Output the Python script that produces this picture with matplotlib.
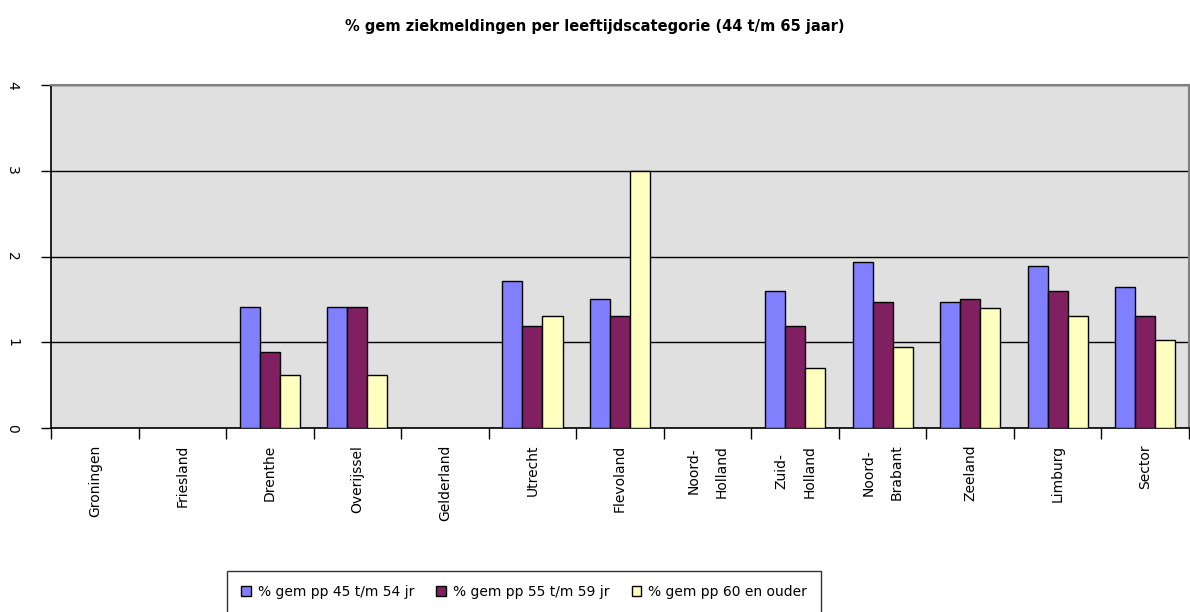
"""Clustered bar chart: % gem ziekmeldingen per leeftijdscategorie per provincie."""

import matplotlib.pyplot as plt
import numpy as np

categories = ["Groningen", "Friesland", "Drenthe", "Overijssel", "Gelderland",
              "Utrecht", "Flevoland", "Noord-\nHolland", "Zuid-\nHolland",
              "Noord-\nBrabant", "Zeeland", "Limburg", "Sector"]
nan = np.nan
pp_45_54 = [nan, nan, 1.41, 1.41, nan, 1.71, 1.50, nan, 1.60, 1.94, 1.47, 1.89, 1.64]
pp_55_59 = [nan, nan, 0.89, 1.41, nan, 1.19, 1.31, nan, 1.19, 1.47, 1.50, 1.60, 1.31]
pp_60_up = [nan, nan, 0.62, 0.62, nan, 1.31, 3.00, nan, 0.70, 0.94, 1.40, 1.31, 1.03]
series_labels = ["% gem pp 45 t/m 54 jr", "% gem pp 55 t/m 59 jr", "% gem pp 60 en ouder"]
colors = ["#8080FF", "#802060", "#FFFFC0"]
yticks = [0, 1, 2, 3, 4]
title = "% gem ziekmeldingen per leeftijdscategorie (44 t/m 65 jaar)"

plt.rcParams["font.family"] = ["DejaVu Sans"]

fig = plt.figure(figsize=(11.9, 6.12), dpi=100)
ax = fig.add_axes([51 / 1190, 1 - 428 / 612, 1138 / 1190, 343 / 612])
ax.set_facecolor("#E0E0E0")

x = np.arange(len(categories))
w = 0.229
for i, (vals, lab, col) in enumerate(zip([pp_45_54, pp_55_59, pp_60_up], series_labels, colors)):
    ax.bar(x + (i - 1) * w, vals, width=w, color=col, edgecolor="black",
           linewidth=1.0, label=lab, zorder=3)

ax.set_xlim(-0.5, len(categories) - 0.5)
ax.set_ylim(0, 4)
ax.set_yticks(yticks)
ax.set_yticklabels([str(t) for t in yticks], rotation=-90, va="center", fontsize=10)
ax.tick_params(axis="y", length=7, width=1, pad=16, direction="out")
ax.yaxis.grid(True, color="black", linewidth=1.0, zorder=1)

# labels at category centers, ticks at category boundaries
ax.set_xticks(x)
ax.set_xticklabels(categories, rotation=90, ha="center", va="top", fontsize=10,
                   linespacing=2.3)
ax.tick_params(axis="x", which="major", length=0, pad=12)
ax.set_xticks(np.arange(-0.5, len(categories)), minor=True)
ax.tick_params(axis="x", which="minor", length=8, width=1, direction="out")

for side in ("left", "bottom"):
    ax.spines[side].set_color("black")
    ax.spines[side].set_linewidth(1.2)
for side in ("top", "right"):
    ax.spines[side].set_color("#808080")
    ax.spines[side].set_linewidth(1.5)

fig.text(0.5, 1 - 26 / 612, title, ha="center", va="center",
         fontsize=10.5, fontweight="bold")

leg = fig.legend(loc="upper center", bbox_to_anchor=(524 / 1190, 1 - 571 / 612),
                 ncol=3, fontsize=10, frameon=True, fancybox=False,
                 handlelength=0.7, handleheight=0.7, handletextpad=0.5,
                 columnspacing=1.6, borderpad=1.0, borderaxespad=0)
leg.get_frame().set_edgecolor("black")
leg.get_frame().set_linewidth(1.0)

fig.savefig("out.png", dpi=100)
